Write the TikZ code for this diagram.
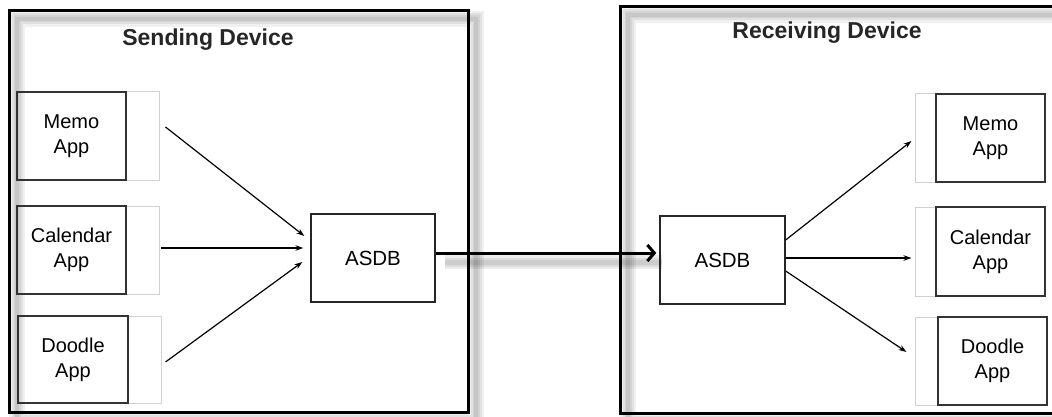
\documentclass[tikz,border=0pt]{standalone}
\usepackage{fontspec}
\setmainfont{Liberation Sans}
\usetikzlibrary{arrows.meta}
\tikzset{
  devbox/.style={draw=black, line width=3pt, inner sep=0pt},
  shadowband/.style={draw=black, line width=#1, opacity=0.06},
  appbox/.style={draw=black!80, line width=1.3pt, inner sep=0pt, align=center,
    font=\fontsize{20}{25}\selectfont},
  ghost/.style={draw=black!18, line width=1pt, inner sep=0pt},
  dbbox/.style={draw=black!85, line width=1.3pt, inner sep=0pt,
    font=\fontsize{20.5}{25}\selectfont},
  title/.style={font=\fontsize{23}{28}\selectfont\bfseries, text=black!85, anchor=base},
  arr/.style={draw=black, line width=1.2pt, -{Stealth[length=8pt,width=5.5pt]}},
  bigarr/.style={draw=black, line width=3pt, -{Straight Barb[length=7pt,width=16pt,line width=3pt]}},
}
\begin{document}
\begin{tikzpicture}[x=1pt,y=-1pt]
\useasboundingbox (0,0) rectangle (1052,417);
\fill[white] (0,0) rectangle (1052,417);
% shadows of the device boxes
\foreach \w in {16pt,11pt,7pt,4pt}{
  \draw[shadowband=\w] (17,19) rectangle (476,420);
  \draw[shadowband=\w] (628,15) rectangle (1068,421);
}
% shadow of the big arrow
\foreach \w in {14pt,9pt,5pt}{
  \draw[black, line width=\w, opacity=0.07] (445,262) -- (662,262);
}
% device boxes
\node[devbox, minimum width=459pt, minimum height=401pt] (send) at (238.5,211.5) {};
\node[devbox, minimum width=440pt, minimum height=406pt] (recv) at (840,210) {};
\node[title] (sendt) at (208,46) {Sending Device};
\node[title] (recvt) at (827,39) {Receiving Device};
% sending apps
\node[ghost, minimum width=142pt, minimum height=88pt] (memoSl) at (88,136) {};
\node[appbox, minimum width=109pt, minimum height=88pt] (memoS) at (71.5,136) {Memo\\App};
\node[ghost, minimum width=142pt, minimum height=88pt] (calSl) at (88,250) {};
\node[appbox, minimum width=109pt, minimum height=88pt] (calS) at (71.5,250) {Calendar\\App};
\node[ghost, minimum width=143pt, minimum height=87pt] (doodSl) at (89.5,359.5) {};
\node[appbox, minimum width=110pt, minimum height=87pt] (doodS) at (73,359.5) {Doodle\\App};
\node[dbbox, minimum width=124pt, minimum height=88pt] (asdbS) at (373,258) {ASDB};
% receiving apps
\node[ghost, minimum width=130pt, minimum height=88pt] (memoRl) at (980,138) {};
\node[appbox, minimum width=109pt, minimum height=88pt] (memoR) at (990.5,138) {Memo\\App};
\node[ghost, minimum width=130pt, minimum height=89pt] (calRl) at (980,251.5) {};
\node[appbox, minimum width=109pt, minimum height=89pt] (calR) at (990.5,251.5) {Calendar\\App};
\node[ghost, minimum width=132pt, minimum height=88pt] (doodRl) at (981,361) {};
\node[appbox, minimum width=109pt, minimum height=88pt] (doodR) at (992.5,361) {Doodle\\App};
\node[dbbox, minimum width=125pt, minimum height=88pt] (asdbR) at (722.5,260) {ASDB};
% arrows, sending side
\draw[arr] ([xshift=6pt,yshift=9pt]memoSl.east) -- ([xshift=-6pt,yshift=22pt]asdbS.west);
\draw[arr] ([xshift=1pt,yshift=2pt]calSl.east) -- ([xshift=-7pt,yshift=10pt]asdbS.west);
\draw[arr] ([xshift=4pt,yshift=-2.5pt]doodSl.east) -- ([xshift=-8pt,yshift=-4pt]asdbS.west);
% big arrow
\draw[bigarr] ([yshift=5pt]asdbS.east) -- ([xshift=-3pt,yshift=7pt]asdbR.west);
% arrows, receiving side
\draw[arr] ([yshift=20pt]asdbR.east) -- ([xshift=-3pt,yshift=-3pt]memoRl.west);
\draw[arr] ([yshift=2pt]asdbR.east) -- ([xshift=-3pt,yshift=-6.5pt]calRl.west);
\draw[arr] ([yshift=-11pt]asdbR.east) -- ([xshift=-8pt,yshift=9pt]doodRl.west);
\end{tikzpicture}
\end{document}
